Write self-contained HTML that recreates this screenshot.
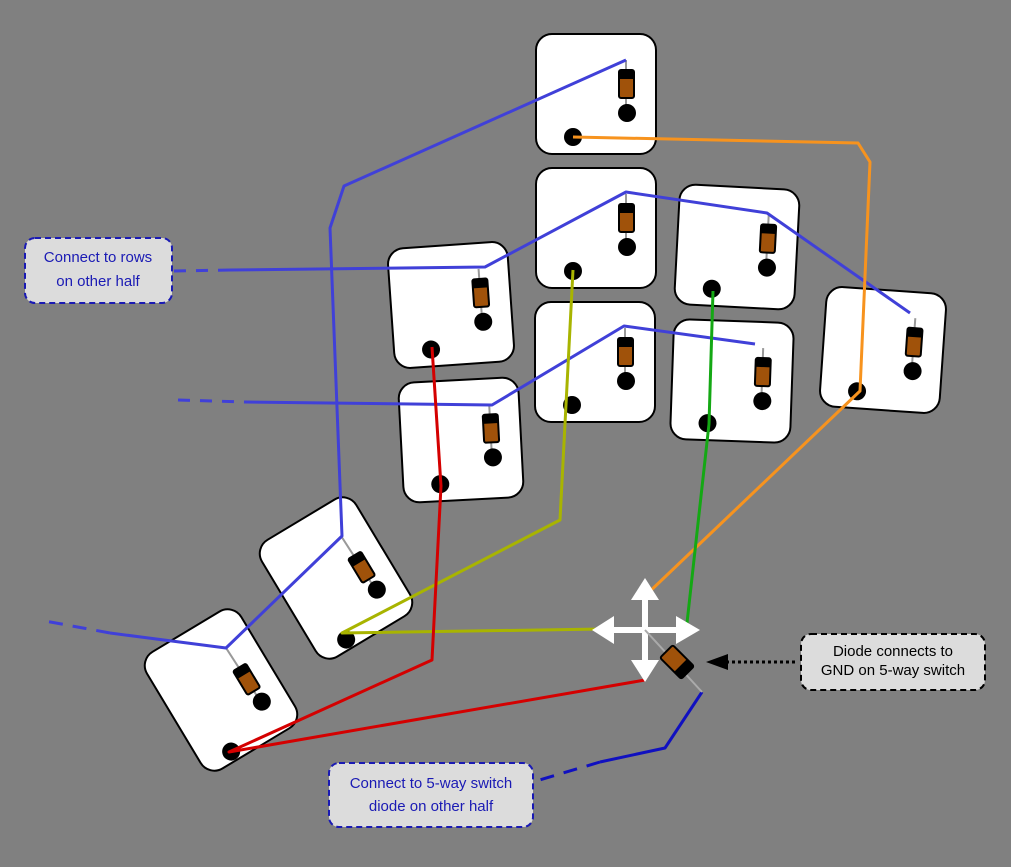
<!DOCTYPE html>
<html><head><meta charset="utf-8"><style>
html,body{margin:0;padding:0;background:#808080;}
svg{display:block}
text{font-family:"Liberation Sans",sans-serif;font-size:15px;text-anchor:middle}
</style></head><body>
<svg width="1011" height="867" viewBox="0 0 1011 867" xmlns="http://www.w3.org/2000/svg">
<defs>
<g id="key">
<rect x="-60" y="-60" width="120" height="120" rx="16" fill="#fff" stroke="#000" stroke-width="2"/>
<line x1="30" y1="-34" x2="30" y2="22" stroke="#999" stroke-width="2"/>
<rect x="23" y="-24" width="15" height="28" rx="2" fill="#a0520a" stroke="#000" stroke-width="2"/>
<rect x="23" y="-24" width="15" height="9" fill="#000"/>
<circle cx="31" cy="19" r="9" fill="#000"/>
<circle cx="-23" cy="43" r="9" fill="#000"/>
</g>
<g id="tkey">
<rect x="-55" y="-68" width="110" height="136" rx="16" fill="#fff" stroke="#000" stroke-width="2"/>
<line x1="26" y1="-33" x2="28" y2="30" stroke="#999" stroke-width="2"/>
<rect x="20" y="-10" width="15" height="28" rx="2" fill="#a0520a" stroke="#000" stroke-width="2"/>
<rect x="20" y="-10" width="15" height="9" fill="#000"/>
<circle cx="29" cy="31" r="9" fill="#000"/>
<circle cx="-23" cy="58" r="9" fill="#000"/>
</g>
</defs>
<use href="#key" transform="translate(596,94)"/>
<use href="#key" transform="translate(596,228)"/>
<use href="#key" transform="translate(737,247) rotate(3)"/>
<use href="#key" transform="translate(451,305) rotate(-4)"/>
<use href="#key" transform="translate(595,362)"/>
<use href="#key" transform="translate(732,381) rotate(2)"/>
<use href="#key" transform="translate(883,350) rotate(4)"/>
<use href="#key" transform="translate(461,440) rotate(-3)"/>
<use href="#tkey" transform="translate(336,578) rotate(-31)"/>
<use href="#tkey" transform="translate(221,690) rotate(-31)"/>

<g fill="none" stroke-width="3" stroke-linejoin="round">
<polyline stroke="#4040d8" points="626,60 344,186 330,228 342,536 226,648 110,633"/>
<line stroke="#4040d8" x1="110" y1="633" x2="45" y2="621" stroke-dasharray="14,10"/>
<polyline stroke="#4040d8" points="230,270 485,267 626,192 767,213 910,313"/>
<line stroke="#4040d8" x1="174" y1="271" x2="230" y2="270" stroke-dasharray="12,10"/>
<polyline stroke="#4040d8" points="245,402 492,405 624,326 755,344"/>
<line stroke="#4040d8" x1="178" y1="400" x2="245" y2="402" stroke-dasharray="12,10"/>
<polyline stroke="#1010c0" points="702,692 665,748 600,762"/>
<line stroke="#1010c0" x1="600" y1="762" x2="533" y2="782" stroke-dasharray="14,10"/>
<polyline stroke="#f7931e" points="573,137 858,143 870,162 860,391 645,596"/>
<polyline stroke="#a8b400" points="573,270 560,520 342,633 602,629"/>
<polyline stroke="#14a814" points="713,291 709,424 686,632"/>
<polyline stroke="#d40000" points="432,347 441,486 432,660 229,752 645,680"/>
</g>

<g fill="#fff" stroke="none">
<rect x="642" y="600" width="6" height="60"/>
<rect x="614" y="627" width="62" height="6"/>
<polygon points="645,578 631,600 659,600"/>
<polygon points="645,682 631,660 659,660"/>
<polygon points="592,630 614,616 614,644"/>
<polygon points="700,630 676,616 676,644"/>
</g>
<line x1="645" y1="630" x2="702" y2="692" stroke="#aaa" stroke-width="2"/>
<g transform="translate(677,662) rotate(-45)">
<rect x="-9" y="-15" width="18" height="30" rx="2" fill="#a0520a" stroke="#000" stroke-width="2"/>
<rect x="-9" y="5" width="18" height="10" fill="#000"/>
</g>

<line x1="795" y1="662" x2="725" y2="662" stroke="#000" stroke-width="3" stroke-dasharray="3,3"/>
<polygon points="706,662 728,654 728,670" fill="#000"/>

<rect x="25" y="238" width="147" height="65" rx="10" fill="#dcdcdc" stroke="#1a1ab4" stroke-width="2" stroke-dasharray="6,4"/>
<text x="98" y="262" fill="#1a1ab4">Connect to rows</text>
<text x="98" y="286" fill="#1a1ab4">on other half</text>

<rect x="801" y="634" width="184" height="56" rx="10" fill="#dcdcdc" stroke="#000" stroke-width="2" stroke-dasharray="6,4"/>
<text x="893" y="656" fill="#000">Diode connects to</text>
<text x="893" y="675" fill="#000">GND on 5-way switch</text>

<rect x="329" y="763" width="204" height="64" rx="10" fill="#dcdcdc" stroke="#1a1ab4" stroke-width="2" stroke-dasharray="6,4"/>
<text x="431" y="788" fill="#1a1ab4">Connect to 5-way switch</text>
<text x="431" y="811" fill="#1a1ab4">diode on other half</text>
</svg>
</body></html>
